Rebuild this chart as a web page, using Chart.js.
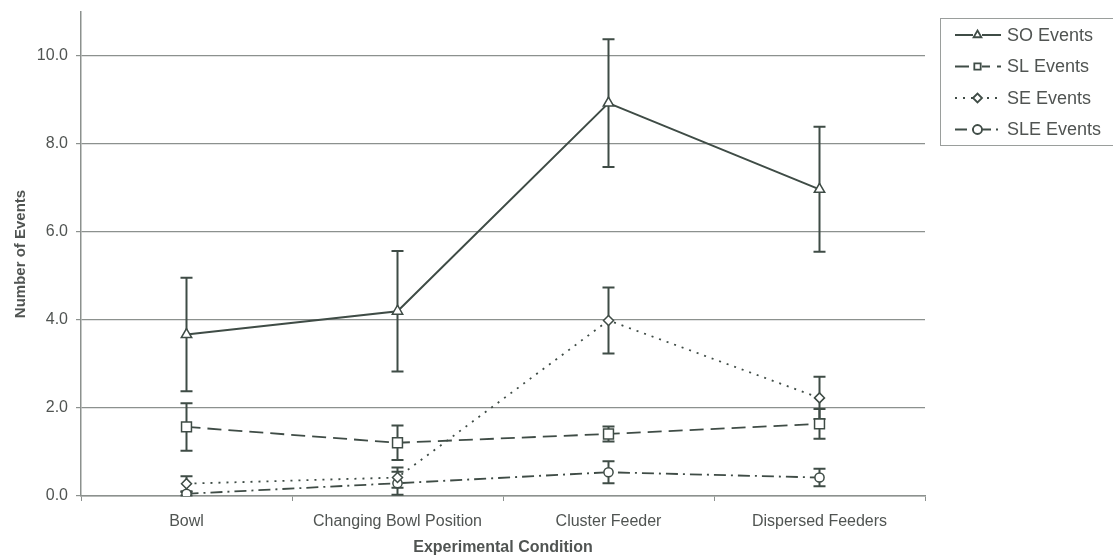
<!DOCTYPE html>
<html>
<head>
<meta charset="utf-8">
<script src="https://cdn.jsdelivr.net/npm/chart.js@4.4.1/dist/chart.umd.min.js"></script>
<style>
  html, body { margin: 0; padding: 0; background: #fff; }
  #wrap { width: 1113px; height: 558px; }
</style>
</head>
<body>
<div id="wrap"><canvas id="c" width="1113" height="558"></canvas></div>
<script>
// Experimental conditions along the x axis
const conditions = ['Bowl', 'Changing Bowl Position', 'Cluster Feeder', 'Dispersed Feeders'];

// Mean number of events per condition, with error bar half-widths
const soEvents  = [3.67, 4.20, 8.93, 6.97];
const soErr     = [1.29, 1.37, 1.45, 1.42];
const slEvents  = [1.57, 1.21, 1.41, 1.64];
const slErr     = [0.54, 0.39, 0.17, 0.34];
const seEvents  = [0.28, 0.42, 3.99, 2.23];
const seErr     = [0.17, 0.23, 0.75, 0.48];
const sleEvents = [0.05, 0.29, 0.54, 0.42];
const sleErr    = [0.04, 0.26, 0.25, 0.20];

const seriesNames = ['SO Events', 'SL Events', 'SE Events', 'SLE Events'];
const yTicks = [0, 2, 4, 6, 8, 10];

const INK = '#3f4c46';
const GRID = '#8c918e';
const TEXT = '#505452';
const FONT = '"Liberation Sans", Arial, sans-serif';

const styles = [
  { dash: [], point: 'triangle', radius: 6 },
  { dash: [14, 7], point: 'rect', radius: 7 },
  { dash: [2, 6], point: 'rectRot', radius: 5 },
  { dash: [12, 5, 2, 5], point: 'circle', radius: 4.6 }
];
const values = [soEvents, slEvents, seEvents, sleEvents];
const errors = [soErr, slErr, seErr, sleErr];

const datasets = values.map((v, i) => ({
  label: seriesNames[i],
  data: v,
  errors: errors[i],
  borderColor: INK,
  borderWidth: i === 0 ? 2 : 1.8,
  borderDash: styles[i].dash,
  borderCapStyle: 'butt',
  pointStyle: styles[i].point,
  pointRadius: styles[i].radius,
  pointBorderWidth: 1.5,
  pointBackgroundColor: '#fff',
  pointBorderColor: INK,
  tension: 0,
  fill: false
}));

// White page behind the chart
const background = {
  id: 'background',
  beforeDraw(chart) {
    const ctx = chart.ctx;
    ctx.save();
    ctx.fillStyle = '#fff';
    ctx.fillRect(0, 0, chart.width, chart.height);
    ctx.restore();
  }
};

// Vertical error bars with caps, drawn beneath the lines and markers
const errorBars = {
  id: 'errorBars',
  beforeDatasetsDraw(chart) {
    const ctx = chart.ctx;
    const x = chart.scales.x, y = chart.scales.y;
    ctx.save();
    ctx.strokeStyle = INK;
    ctx.lineWidth = 2;
    ctx.setLineDash([]);
    chart.data.datasets.forEach(ds => {
      ds.data.forEach((v, j) => {
        const e = ds.errors[j];
        const px = x.getPixelForValue(j);
        const top = y.getPixelForValue(v + e);
        const bot = y.getPixelForValue(Math.max(0, v - e));
        ctx.beginPath();
        ctx.moveTo(px, top); ctx.lineTo(px, bot);
        ctx.moveTo(px - 6, top); ctx.lineTo(px + 6, top);
        ctx.moveTo(px - 6, bot); ctx.lineTo(px + 6, bot);
        ctx.stroke();
      });
    });
    ctx.restore();
  }
};

// Boxed legend at the upper right with line-and-marker samples
const boxLegend = {
  id: 'boxLegend',
  afterDraw(chart) {
    const ctx = chart.ctx;
    ctx.save();
    ctx.strokeStyle = '#9a9e9c';
    ctx.lineWidth = 1;
    ctx.strokeRect(940.5, 18.5, 200, 127);
    chart.data.datasets.forEach((ds, i) => {
      const cy = 35 + i * 31.5;
      ctx.strokeStyle = INK;
      ctx.lineWidth = 1.8;
      ctx.setLineDash(ds.borderDash);
      ctx.beginPath();
      ctx.moveTo(955, cy); ctx.lineTo(1001, cy);
      ctx.stroke();
      ctx.setLineDash([]);
      ctx.fillStyle = '#fff';
      ctx.fillRect(973, cy - 4, 9, 8);
      Chart.helpers.drawPoint(ctx, {
        pointStyle: ds.pointStyle, radius: 4.5, borderWidth: 1.5, rotation: 0
      }, 977.5, cy);
      ctx.fillStyle = TEXT;
      ctx.font = '18px ' + FONT;
      ctx.textBaseline = 'middle';
      ctx.fillText(ds.label, 1007, cy + 1);
    });
    ctx.restore();
  }
};

new Chart(document.getElementById('c'), {
  type: 'line',
  data: { labels: conditions, datasets },
  options: {
    responsive: false,
    animation: false,
    layout: { padding: { top: 12, right: 188, left: 0, bottom: 0 } },
    plugins: { legend: { display: false }, tooltip: { enabled: false } },
    elements: { point: { borderColor: INK } },
    scales: {
      x: {
        offset: true,
        afterFit(scale) { scale.height = 62; },
        grid: {
          display: true,
          offset: true,
          drawOnChartArea: false,
          drawTicks: true,
          tickLength: 5,
          color: GRID
        },
        border: { display: true, color: GRID, width: 1.5 },
        ticks: { color: TEXT, font: { family: FONT, size: 16 }, padding: 11, maxRotation: 0 },
        title: {
          display: true,
          text: 'Experimental Condition',
          color: TEXT,
          font: { family: FONT, size: 16, weight: 'bold' },
          padding: { top: 0, bottom: 1 }
        }
      },
      y: {
        min: 0,
        max: 11,
        afterFit(scale) {
          scale.width = 81;
          scale.paddingTop = 0;
          scale.paddingBottom = 0;
        },
        afterBuildTicks(scale) {
          scale.ticks = yTicks.map(v => ({ value: v }));
        },
        grid: { color: GRID, lineWidth: 1.2, tickLength: 5, drawTicks: true },
        border: { display: true, color: GRID, width: 1.5 },
        ticks: {
          color: TEXT,
          font: { family: FONT, size: 16 },
          padding: 8,
          callback: v => Number(v).toFixed(1)
        },
        title: {
          display: true,
          text: 'Number of Events',
          color: TEXT,
          font: { family: FONT, size: 15, weight: 'bold' },
          padding: { top: 12, bottom: 0 }
        }
      }
    }
  },
  plugins: [background, errorBars, boxLegend]
});
</script>
</body>
</html>
